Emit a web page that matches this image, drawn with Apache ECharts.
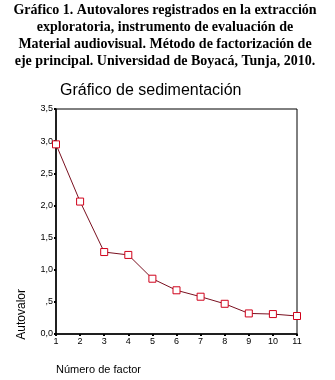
<!DOCTYPE html>
<html><head><meta charset="utf-8">
<script src="https://cdn.jsdelivr.net/npm/echarts@6/dist/echarts.min.js"></script>
<style>html,body{margin:0;padding:0;background:#fff}#c{width:335px;height:380px}</style>
</head><body><div id="c"></div>
<script>
const factors = ['1','2','3','4','5','6','7','8','9','10','11'];
const eigenvalues = [2.95, 2.06, 1.275, 1.23, 0.86, 0.68, 0.58, 0.47, 0.32, 0.31, 0.28];
const yTickLabels = ['0,0', ',5', '1,0', '1,5', '2,0', '2,5', '3,0', '3,5'];
const captionLines = [
  'Gráfico 1. Autovalores registrados en la extracción',
  'exploratoria, instrumento de evaluación de',
  'Material audiovisual. Método de factorización de',
  'eje principal. Universidad de Boyacá, Tunja, 2010.'
];
const chartTitle = 'Gráfico de sedimentación';
const yName = 'Autovalor';
const xName = 'Número de factor';

const chart = echarts.init(document.getElementById('c'), null, {renderer: 'canvas'});
chart.setOption({
  backgroundColor: '#fff',
  animation: false,
  title: [
    {text: chartTitle, left: 55, top: 78,
     textStyle: {fontFamily: 'Liberation Sans', fontWeight: 'normal', fontSize: 16, color: '#000'}}
  ],
  graphic: captionLines.map((t, i) => ({
    type: 'text', x: 165, y: 3 + i * 17,
    style: {text: t, font: 'bold 14px "Liberation Serif"', fill: '#000', align: 'center', verticalAlign: 'top'}
  })).concat([
    {type: 'text', left: 56, top: 364, style: {text: xName, font: '11px "Liberation Sans"', fill: '#000'}},
    {type: 'text', left: 16, top: 289, rotation: Math.PI/2, style: {text: yName, font: '12px "Liberation Sans"', fill: '#000'}}
  ]),
  grid: {left: 56, right: 38, top: 109, bottom: 46, show: true, borderColor: '#000', borderWidth: 1, backgroundColor: 'transparent'},
  xAxis: {
    type: 'value', min: 1, max: 11, interval: 1,
    axisLine: {show: true, onZero: false, lineStyle: {color: '#000', width: 1.5}},
    axisTick: {show: true, length: 2, lineStyle: {color: '#000', width: 2}},
    axisLabel: {fontFamily: 'Liberation Sans', fontSize: 9, color: '#000', margin: 3,
      formatter: v => factors[Math.round(v) - 1] || ''},
    splitLine: {show: false}
  },
  yAxis: {
    type: 'value', min: 0, max: 3.5, interval: 0.5,
    axisLine: {show: true, lineStyle: {color: '#000', width: 1.5}},
    axisTick: {show: true, length: 2, lineStyle: {color: '#000', width: 2}},
    axisLabel: {fontFamily: 'Liberation Sans', fontSize: 9, color: '#000', margin: 3,
      formatter: (v) => yTickLabels[Math.round(v * 2)]},
    splitLine: {show: false}
  },
  series: [{
    type: 'line',
    data: eigenvalues.map((v, i) => [Number(factors[i]), v]),
    symbol: 'rect', symbolSize: 7,
    lineStyle: {color: '#7a1020', width: 1},
    itemStyle: {color: '#fff', borderColor: '#d0021b', borderWidth: 1}
  }]
});
</script></body></html>
